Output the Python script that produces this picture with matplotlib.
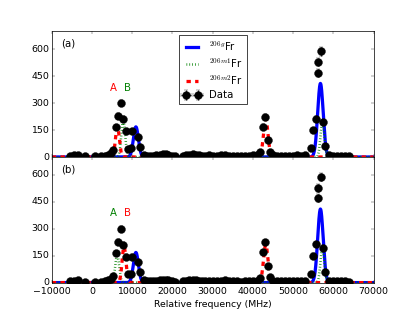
import numpy as np
import matplotlib
matplotlib.use("Agg")
import matplotlib.pyplot as plt

plt.style.use("classic")
plt.rcParams["figure.facecolor"] = "white"
plt.rcParams["savefig.facecolor"] = "white"
plt.rcParams["xtick.labelsize"] = 13
plt.rcParams["ytick.labelsize"] = 13
plt.rcParams["xtick.major.pad"] = 6

# ---- measured data (same spectrum in both panels) ----
freq = [-5500, -4600, -3600, -1800, 800, 2300, 3200, 4000, 4700,
        5290, 5950, 6530, 7200, 7770, 8360, 8860, 9600, 10000, 11340, 12000,
        12800, 13600, 14400, 15200, 16000, 16800, 17600, 18300, 19000, 19800,
        20600, 22600, 23400, 24200, 25000, 25800, 26600, 27400, 28200, 29000,
        30000, 31000, 32000, 33000, 34000, 35000, 36000, 37000, 38000, 39000,
        40000, 41000, 41860, 42430, 43000, 43670, 44170, 45000, 46000, 47000,
        48000, 49000, 50000, 51000, 52000, 53000, 54340, 54910, 55580, 56160,
        56160, 56820, 57490, 58060, 59000, 60000, 61000, 62000, 63000, 64000]
counts = [8, 10, 12, 6, 4, 5, 8, 12, 20,
          39, 165, 228, 299, 212, 145, 46, 50, 145, 113, 57,
          12, 8, 8, 7, 9, 12, 15, 16, 12, 8,
          5, 8, 10, 12, 15, 12, 10, 8, 8, 9,
          8, 8, 10, 12, 8, 7, 8, 6, 8, 8,
          9, 10, 26, 169, 224, 95, 30, 10, 8, 8,
          7, 8, 8, 9, 8, 10, 48, 150, 213, 470,
          529, 589, 195, 61, 10, 8, 8, 7, 8, 5]
freq_err = 250

# ---- fitted components: (centre MHz, height, sigma MHz) ----
g_peaks = [(10900, 168, 620), (56800, 410, 680)]
m1_peaks_a = [(7750, 205, 480), (57300, 192, 480)]
m2_peaks_a = [(6300, 168, 480), (43200, 212, 560)]
m1_peaks_b = [(6250, 155, 480), (57300, 192, 480)]
m2_peaks_b = [(7950, 200, 480), (43200, 212, 560)]

panel_labels = ["(a)", "(b)"]
ab_colors = [("red", "green"), ("green", "red")]

xs = np.linspace(-10000, 70000, 2000)


def model(peaks):
    y = np.zeros_like(xs)
    for c, h, s in peaks:
        y += h * np.exp(-0.5 * ((xs - c) / s) ** 2)
    return y


fig = plt.figure(figsize=(8, 314 / 51.875), dpi=51.875)
axes = [fig.add_subplot(2, 1, 1), fig.add_subplot(2, 1, 2)]
fig.subplots_adjust(hspace=0, left=0.125, right=0.9, top=0.9, bottom=0.1)

sets = [(m1_peaks_a, m2_peaks_a), (m1_peaks_b, m2_peaks_b)]
for i, ax in enumerate(axes):
    m1, m2 = sets[i]
    ax.plot(xs, model(g_peaks), "b-", lw=4.5, label=r"$^{206g}$Fr")
    ax.plot(xs, model(m1), color="green", ls=":", lw=3.5, label=r"$^{206m1}$Fr")
    ax.plot(xs, model(m2), "r--", lw=4.5, label=r"$^{206m2}$Fr")
    ax.errorbar(freq, counts, yerr=np.sqrt(counts), xerr=freq_err, fmt="o",
                color="black", mec="black", ms=11, capsize=3, elinewidth=1.2,
                label="Data")
    ax.set_xlim(-10000, 70000)
    ax.set_ylim(0, 700)
    ax.set_yticks([0, 150, 300, 450, 600])
    ax.text(0.03, 0.9, panel_labels[i], transform=ax.transAxes, fontsize=14,
            va="center")
    ca, cb = ab_colors[i]
    ax.text(5400, 370, "A", color=ca, fontsize=14, ha="center")
    ax.text(8700, 370, "B", color=cb, fontsize=14, ha="center")

axes[0].set_xticklabels([])
axes[1].set_xticks(np.arange(-10000, 70001, 10000))
axes[1].set_xlabel("Relative frequency (MHz)", fontsize=13)
axes[0].legend(loc="upper center", numpoints=2, fontsize=14, borderaxespad=0.4,
               handlelength=1.8, labelspacing=0.35)

fig.savefig("out.png", dpi=51.875)
